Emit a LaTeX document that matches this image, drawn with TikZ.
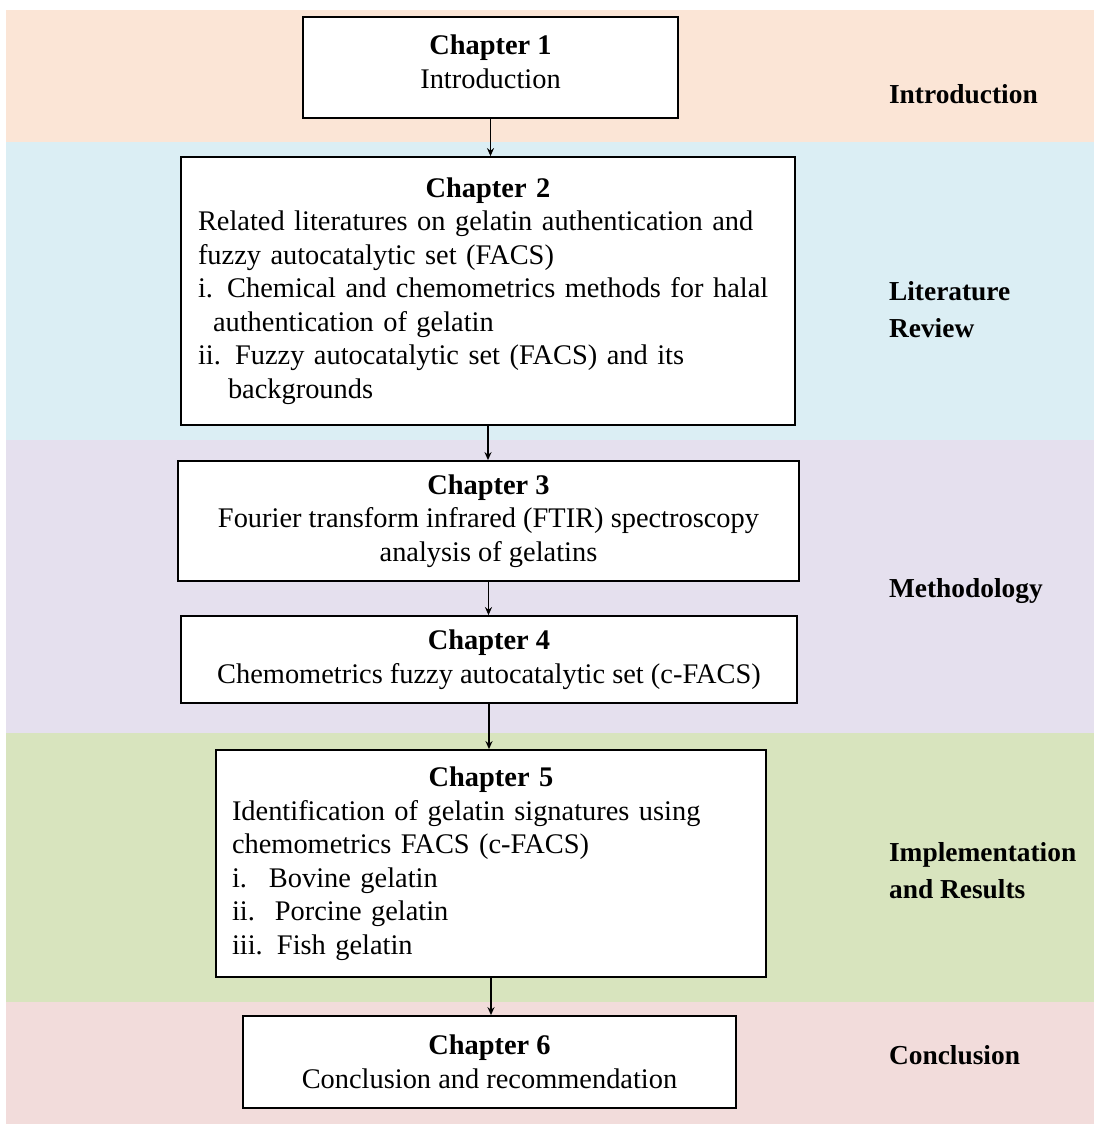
\documentclass[tikz,border=0pt]{standalone}
\usepackage{fontspec}
\setmainfont{Liberation Serif}
\usetikzlibrary{positioning, arrows.meta}

\definecolor{introband}{HTML}{FBE5D6}
\definecolor{litband}{HTML}{DBEEF4}
\definecolor{methband}{HTML}{E5E0EE}
\definecolor{implband}{HTML}{D8E4BE}
\definecolor{conband}{HTML}{F2DCDB}

\hyphenpenalty=10000
\newcommand{\chaphead}[1]{{\centering\bfseries Chapter #1\par}}

\begin{document}
\begin{tikzpicture}[x=0.5pt, y=-0.5pt,
	chap box/.style={draw=black, line width=0.9pt, fill=white, font=\fontsize{14.2}{16.75}\selectfont, inner ysep=4pt},
	list box/.style={chap box, align=left},
	phase label/.style={font=\fontsize{13.7}{18.5}\selectfont\bfseries, align=left, anchor=west},
	flow arrow/.style={-{Stealth[length=4pt, width=3.5pt]}, line width=0.7pt, black},
	]
	\useasboundingbox (0,0) rectangle (1096,1131);
	
	% Coloured bands behind the chapters
	\fill[introband] (6,10) rectangle (1094,142);
	\fill[litband] (6,142) rectangle (1094,440);
	\fill[methband] (6,440) rectangle (1094,733);
	\fill[implband] (6,733) rectangle (1094,1002);
	\fill[conband] (6,1002) rectangle (1094,1124);
	
	% Chapter 1
	\node[chap box, align=center, minimum width=187.5pt, minimum height=50.5pt] (ch1) at (490.5,67.5)
	{\textbf{Chapter 1}\\Introduction\rule[-6pt]{0pt}{0pt}};
	
	% Chapter 2
	\node[list box, text width=290pt, inner xsep=8.5pt, minimum height=134pt] (ch2) at (488,291)
	{\chaphead{2}
		Related literatures on gelatin authentication and\\
		fuzzy autocatalytic set (FACS)\\
		i. Chemical and chemometrics methods for halal\\
		\hspace*{7.5pt}authentication of gelatin\\
		ii. Fuzzy autocatalytic set (FACS) and its\\
		\hspace*{15pt}backgrounds};
	
	% Chapter 3
	\node[chap box, align=center, minimum width=310.5pt, minimum height=60pt] (ch3) at (488.5,521)
	{\textbf{Chapter 3}\\Fourier transform infrared (FTIR) spectroscopy\\analysis of gelatins};
	
	% Chapter 4
	\node[chap box, align=center, minimum width=308pt, minimum height=43.5pt] (ch4) at (489,659.5)
	{\textbf{Chapter 4}\\Chemometrics fuzzy autocatalytic set (c-FACS)};
	
	% Chapter 5
	\node[list box, text width=259pt, inner xsep=8pt, minimum height=113.5pt] (ch5) at (491,863.5)
	{\chaphead{5}
		Identification of gelatin signatures using\\
		chemometrics FACS (c-FACS)\\
		i.\hspace{11pt}Bovine gelatin\\
		ii.\hspace{10pt}Porcine gelatin\\
		iii. Fish gelatin};
	
	% Chapter 6
	\node[chap box, align=center, minimum width=246.5pt, minimum height=46pt] (ch6) at (489.5,1062)
	{\textbf{Chapter 6}\\Conclusion and recommendation};
	
	% Arrows between chapters
	\draw[flow arrow] (ch1.south) -- (ch1.south |- ch2.north);
	\draw[flow arrow] (ch2.south) -- (ch2.south |- ch3.north);
	\draw[flow arrow] (ch3.south) -- (ch3.south |- ch4.north);
	\draw[flow arrow] (ch4.south) -- (ch4.south |- ch5.north);
	\draw[flow arrow] (ch5.south) -- (ch5.south |- ch6.north);
	
	% Phase labels
	\node[phase label] (lintro) at (882,94) {Introduction};
	\node[phase label, align=left] (llit) at (882,310) {Literature\\Review};
	\node[phase label] (lmeth) at (882,591) {Methodology};
	\node[phase label, align=left] (limpl) at (882,870.5) {Implementation\\and Results};
	\node[phase label] (lcon) at (882,1055) {Conclusion};
	
\end{tikzpicture}
\end{document}
